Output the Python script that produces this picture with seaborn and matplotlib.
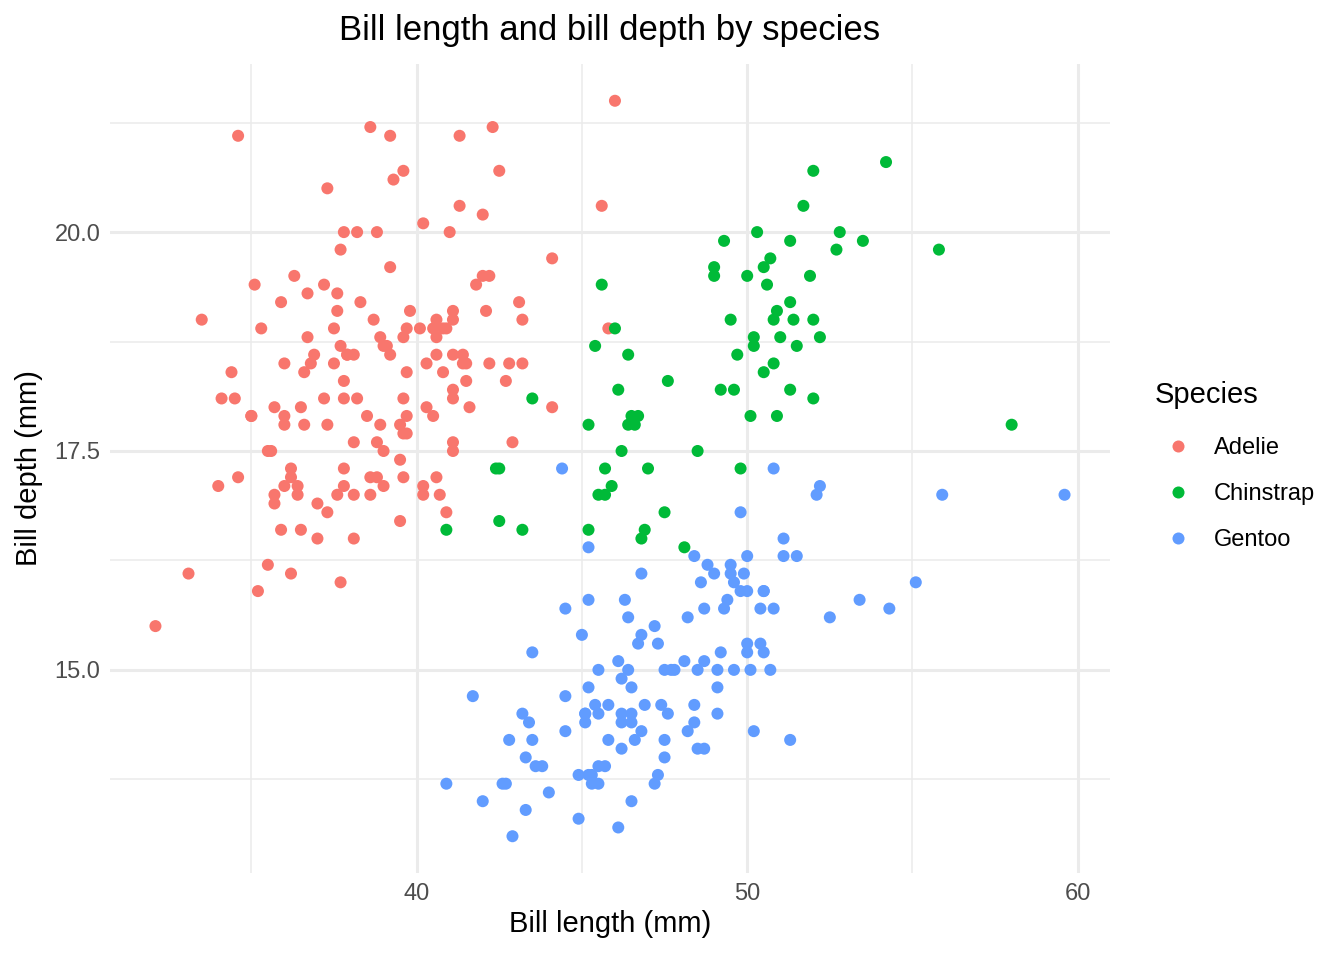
import pandas as pd
import seaborn as sns
import matplotlib.pyplot as plt
import numpy as np

# Bill length / depth (mm), one pair per point
adelie_len = [39.1, 39.5, 40.3, 36.7, 39.3, 38.9, 39.2, 34.1, 42.0, 37.8, 37.8, 41.1, 38.6, 34.6, 36.6, 38.7,
              42.5, 34.4, 46.0, 37.8, 37.7, 35.9, 38.2, 38.8, 35.3, 40.6, 40.5, 37.9, 40.5, 39.5, 37.2, 39.5,
              40.9, 36.4, 39.2, 38.8, 42.2, 37.6, 39.8, 36.5, 40.8, 36.0, 44.1, 37.0, 39.6, 41.1, 37.5, 36.0,
              42.3, 39.6, 40.1, 35.0, 42.0, 34.5, 41.4, 39.0, 40.6, 36.5, 37.6, 35.7, 41.3, 37.6, 41.1, 36.4,
              41.6, 35.5, 41.1, 35.9, 41.8, 33.5, 39.7, 39.6, 45.8, 35.5, 42.8, 40.9, 37.2, 36.2, 42.1, 34.6,
              42.9, 36.7, 35.1, 37.3, 41.3, 36.3, 36.9, 38.3, 38.9, 35.7, 41.1, 34.0, 39.6, 36.2, 40.8, 38.1,
              40.3, 33.1, 43.2, 35.0, 41.0, 37.7, 37.8, 37.9, 39.7, 38.6, 38.2, 38.1, 43.2, 38.1, 45.6, 39.7,
              42.2, 39.6, 42.7, 38.6, 37.3, 35.7, 41.1, 36.2, 37.7, 40.2, 41.4, 35.2, 40.6, 38.8, 41.5, 39.0,
              44.1, 38.5, 43.1, 36.8, 37.5, 38.1, 41.1, 35.6, 40.2, 37.0, 39.7, 40.2, 40.6, 32.1, 40.7, 37.3,
              39.0, 39.2, 36.6, 36.0, 37.8, 36.0, 41.5]
adelie_dep = [18.7, 17.4, 18.0, 19.3, 20.6, 17.8, 19.6, 18.1, 20.2, 17.1, 17.3, 17.6, 21.2, 21.1, 17.8, 19.0,
              20.7, 18.4, 21.5, 18.3, 18.7, 19.2, 18.1, 17.2, 18.9, 18.6, 17.9, 18.6, 18.9, 16.7, 18.1, 17.8,
              18.9, 17.0, 21.1, 20.0, 18.5, 19.3, 19.1, 18.0, 18.4, 18.5, 19.7, 16.9, 18.8, 19.0, 18.9, 17.9,
              21.2, 17.7, 18.9, 17.9, 19.5, 18.1, 18.6, 17.5, 18.8, 16.6, 19.1, 16.9, 21.1, 17.0, 18.2, 17.1,
              18.0, 16.2, 19.1, 16.6, 19.4, 19.0, 18.4, 17.2, 18.9, 17.5, 18.5, 16.8, 19.4, 16.1, 19.1, 17.2,
              17.6, 18.8, 19.4, 17.8, 20.3, 19.5, 18.6, 19.2, 18.8, 18.0, 18.1, 17.1, 18.1, 17.3, 18.9, 18.6,
              18.5, 16.1, 18.5, 17.9, 20.0, 16.0, 20.0, 18.6, 18.9, 17.2, 20.0, 17.0, 19.0, 16.5, 20.3, 17.7,
              19.5, 20.7, 18.3, 17.0, 20.5, 17.0, 18.6, 17.2, 19.8, 17.0, 18.5, 15.9, 19.0, 17.6, 18.3, 17.1,
              18.0, 17.9, 19.2, 18.5, 18.5, 17.6, 17.5, 17.5, 20.1, 16.5, 17.9, 17.1, 17.2, 15.5, 17.0, 16.8,
              18.7, 18.6, 18.4, 17.8, 18.1, 17.1, 18.5]

chinstrap_len = [46.5, 50.0, 51.3, 45.4, 52.7, 45.2, 46.1, 51.3, 46.0, 51.3, 46.6, 51.7, 47.0, 52.0, 45.9, 50.5,
                 50.3, 58.0, 46.4, 49.2, 42.4, 48.5, 43.2, 50.6, 46.7, 52.0, 50.5, 49.5, 46.4, 52.8, 40.9, 54.2,
                 42.5, 51.0, 49.7, 47.5, 47.6, 52.0, 46.9, 53.5, 49.0, 46.2, 50.9, 45.5, 50.9, 50.8, 50.1, 49.0,
                 51.5, 49.8, 48.1, 51.4, 45.7, 50.7, 42.5, 52.2, 45.2, 49.3, 50.2, 45.6, 51.9, 46.8, 45.7, 55.8,
                 43.5, 49.6, 50.8, 50.2]
chinstrap_dep = [17.9, 19.5, 19.2, 18.7, 19.8, 17.8, 18.2, 18.2, 18.9, 19.9, 17.8, 20.3, 17.3, 18.1, 17.1, 19.6,
                 20.0, 17.8, 18.6, 18.2, 17.3, 17.5, 16.6, 19.4, 17.9, 19.0, 18.4, 19.0, 17.8, 20.0, 16.6, 20.8,
                 16.7, 18.8, 18.6, 16.8, 18.3, 20.7, 16.6, 19.9, 19.5, 17.5, 19.1, 17.0, 17.9, 18.5, 17.9, 19.6,
                 18.7, 17.3, 16.4, 19.0, 17.3, 19.7, 17.3, 18.8, 16.6, 19.9, 18.8, 19.4, 19.5, 16.5, 17.0, 19.8,
                 18.1, 18.2, 19.0, 18.7]

gentoo_len = [46.1, 50.0, 48.7, 50.0, 47.6, 46.5, 45.4, 46.7, 43.3, 46.8, 40.9, 49.0, 45.5, 48.4, 45.8, 49.3,
              42.0, 49.2, 46.2, 48.7, 50.2, 45.1, 46.5, 46.3, 42.9, 46.1, 44.5, 47.8, 48.2, 50.0, 47.3, 42.8,
              45.1, 59.6, 49.1, 48.4, 42.6, 44.4, 44.0, 48.7, 42.7, 49.6, 45.3, 49.6, 50.5, 43.6, 45.5, 50.5,
              44.9, 45.2, 46.6, 48.5, 45.1, 50.1, 46.5, 45.0, 43.8, 45.5, 43.2, 50.4, 45.3, 46.2, 45.7, 54.3,
              45.8, 49.8, 46.2, 49.5, 43.5, 50.7, 47.7, 46.4, 48.2, 46.5, 46.4, 48.6, 47.5, 51.1, 45.2, 45.2,
              49.1, 52.5, 47.4, 50.0, 44.9, 50.8, 43.4, 51.3, 47.5, 52.1, 47.5, 52.2, 45.5, 49.5, 44.5, 50.8,
              49.4, 46.9, 48.4, 51.1, 48.5, 55.9, 47.2, 49.1, 47.3, 46.8, 41.7, 53.4, 43.3, 48.1, 50.5, 49.8,
              43.5, 51.5, 46.2, 55.1, 44.5, 48.8, 47.2, 46.8, 50.4, 45.2, 49.9]
gentoo_dep = [13.2, 16.3, 14.1, 15.2, 14.5, 13.5, 14.6, 15.3, 13.4, 15.4, 13.7, 16.1, 13.7, 14.6, 14.6, 15.7,
              13.5, 15.2, 14.5, 15.1, 14.3, 14.5, 14.5, 15.8, 13.1, 15.1, 14.3, 15.0, 14.3, 15.3, 15.3, 14.2,
              14.5, 17.0, 14.8, 16.3, 13.7, 17.3, 13.6, 15.7, 13.7, 16.0, 13.7, 15.0, 15.9, 13.9, 13.9, 15.9,
              13.3, 15.8, 14.2, 14.1, 14.4, 15.0, 14.4, 15.4, 13.9, 15.0, 14.5, 15.3, 13.8, 14.9, 13.9, 15.7,
              14.2, 16.8, 14.4, 16.2, 14.2, 15.0, 15.0, 15.6, 15.6, 14.8, 15.0, 16.0, 14.2, 16.3, 13.8, 16.4,
              14.5, 15.6, 14.6, 15.9, 13.8, 17.3, 14.4, 14.2, 14.0, 17.0, 15.0, 17.1, 14.5, 16.1, 14.7, 15.7,
              15.8, 14.6, 14.4, 16.5, 15.0, 17.0, 15.5, 15.0, 13.8, 16.1, 14.7, 15.8, 14.0, 15.1, 15.2, 15.9,
              15.2, 16.3, 14.1, 16.0, 15.7, 16.2, 13.7, 14.3, 15.7, 14.8, 16.1]

species = ['Adelie', 'Chinstrap', 'Gentoo']
colors = ['#F8766D', '#00BA38', '#619CFF']

df = pd.concat([
    pd.DataFrame({'bill_length': adelie_len, 'bill_depth': adelie_dep, 'species': 'Adelie'}),
    pd.DataFrame({'bill_length': chinstrap_len, 'bill_depth': chinstrap_dep, 'species': 'Chinstrap'}),
    pd.DataFrame({'bill_length': gentoo_len, 'bill_depth': gentoo_dep, 'species': 'Gentoo'}),
], ignore_index=True)

sns.set_style('white')
plt.rcParams['font.family'] = ['Liberation Sans', 'DejaVu Sans']
plt.rcParams['text.color'] = 'black'
plt.rcParams['axes.labelcolor'] = 'black'

fig = plt.figure(figsize=(13.44, 9.6), dpi=100)
ax = fig.add_axes([110/1344, 87/960, 1000/1344, 809/960])

sns.scatterplot(data=df, x='bill_length', y='bill_depth', hue='species', hue_order=species,
                palette=colors, s=75, linewidth=0, ax=ax, zorder=3)

# ggplot-style 5% expansion of the data range
xmin, xmax = df['bill_length'].min(), df['bill_length'].max()
ymin, ymax = df['bill_depth'].min(), df['bill_depth'].max()
ax.set_xlim(xmin - 0.05*(xmax-xmin), xmax + 0.05*(xmax-xmin))
ax.set_ylim(ymin - 0.05*(ymax-ymin), ymax + 0.05*(ymax-ymin))

ax.set_xticks([40, 50, 60])
ax.set_xticks([35, 45, 55], minor=True)
ax.set_yticks([15.0, 17.5, 20.0])
ax.set_yticks([13.75, 16.25, 18.75, 21.25], minor=True)
ax.set_yticklabels(['15.0', '17.5', '20.0'])
ax.grid(which='major', color='#EBEBEB', linewidth=2.2, zorder=0)
ax.grid(which='minor', color='#EBEBEB', linewidth=1.1, zorder=0)
ax.set_axisbelow(True)
for sp in ax.spines.values():
    sp.set_visible(False)
ax.tick_params(which='both', length=0, labelsize=17, labelcolor='#4D4D4D', pad=7)

ax.set_xlabel('Bill length (mm)', fontsize=21, labelpad=4)
ax.set_ylabel('Bill depth (mm)', fontsize=21, labelpad=8)
ax.set_title('Bill length and bill depth by species', fontsize=25, pad=17, color='black')

handles, labels = ax.get_legend_handles_labels()
leg = ax.legend(handles, labels, title='Species', loc='upper left',
                bbox_to_anchor=(1143/1344, (960-369)/960),
                bbox_transform=fig.transFigure, frameon=False, fontsize=17, title_fontsize=21,
                labelspacing=1.02, handletextpad=0.5, borderpad=0, alignment='left', markerscale=1.0)
# a bit more room between the legend title and the first key
leg._legend_box.sep = 17 * 1.02 + 3
leg.get_title().set_color('black')
for t in leg.get_texts():
    t.set_color('black')

fig.savefig('out.png', dpi=100)
